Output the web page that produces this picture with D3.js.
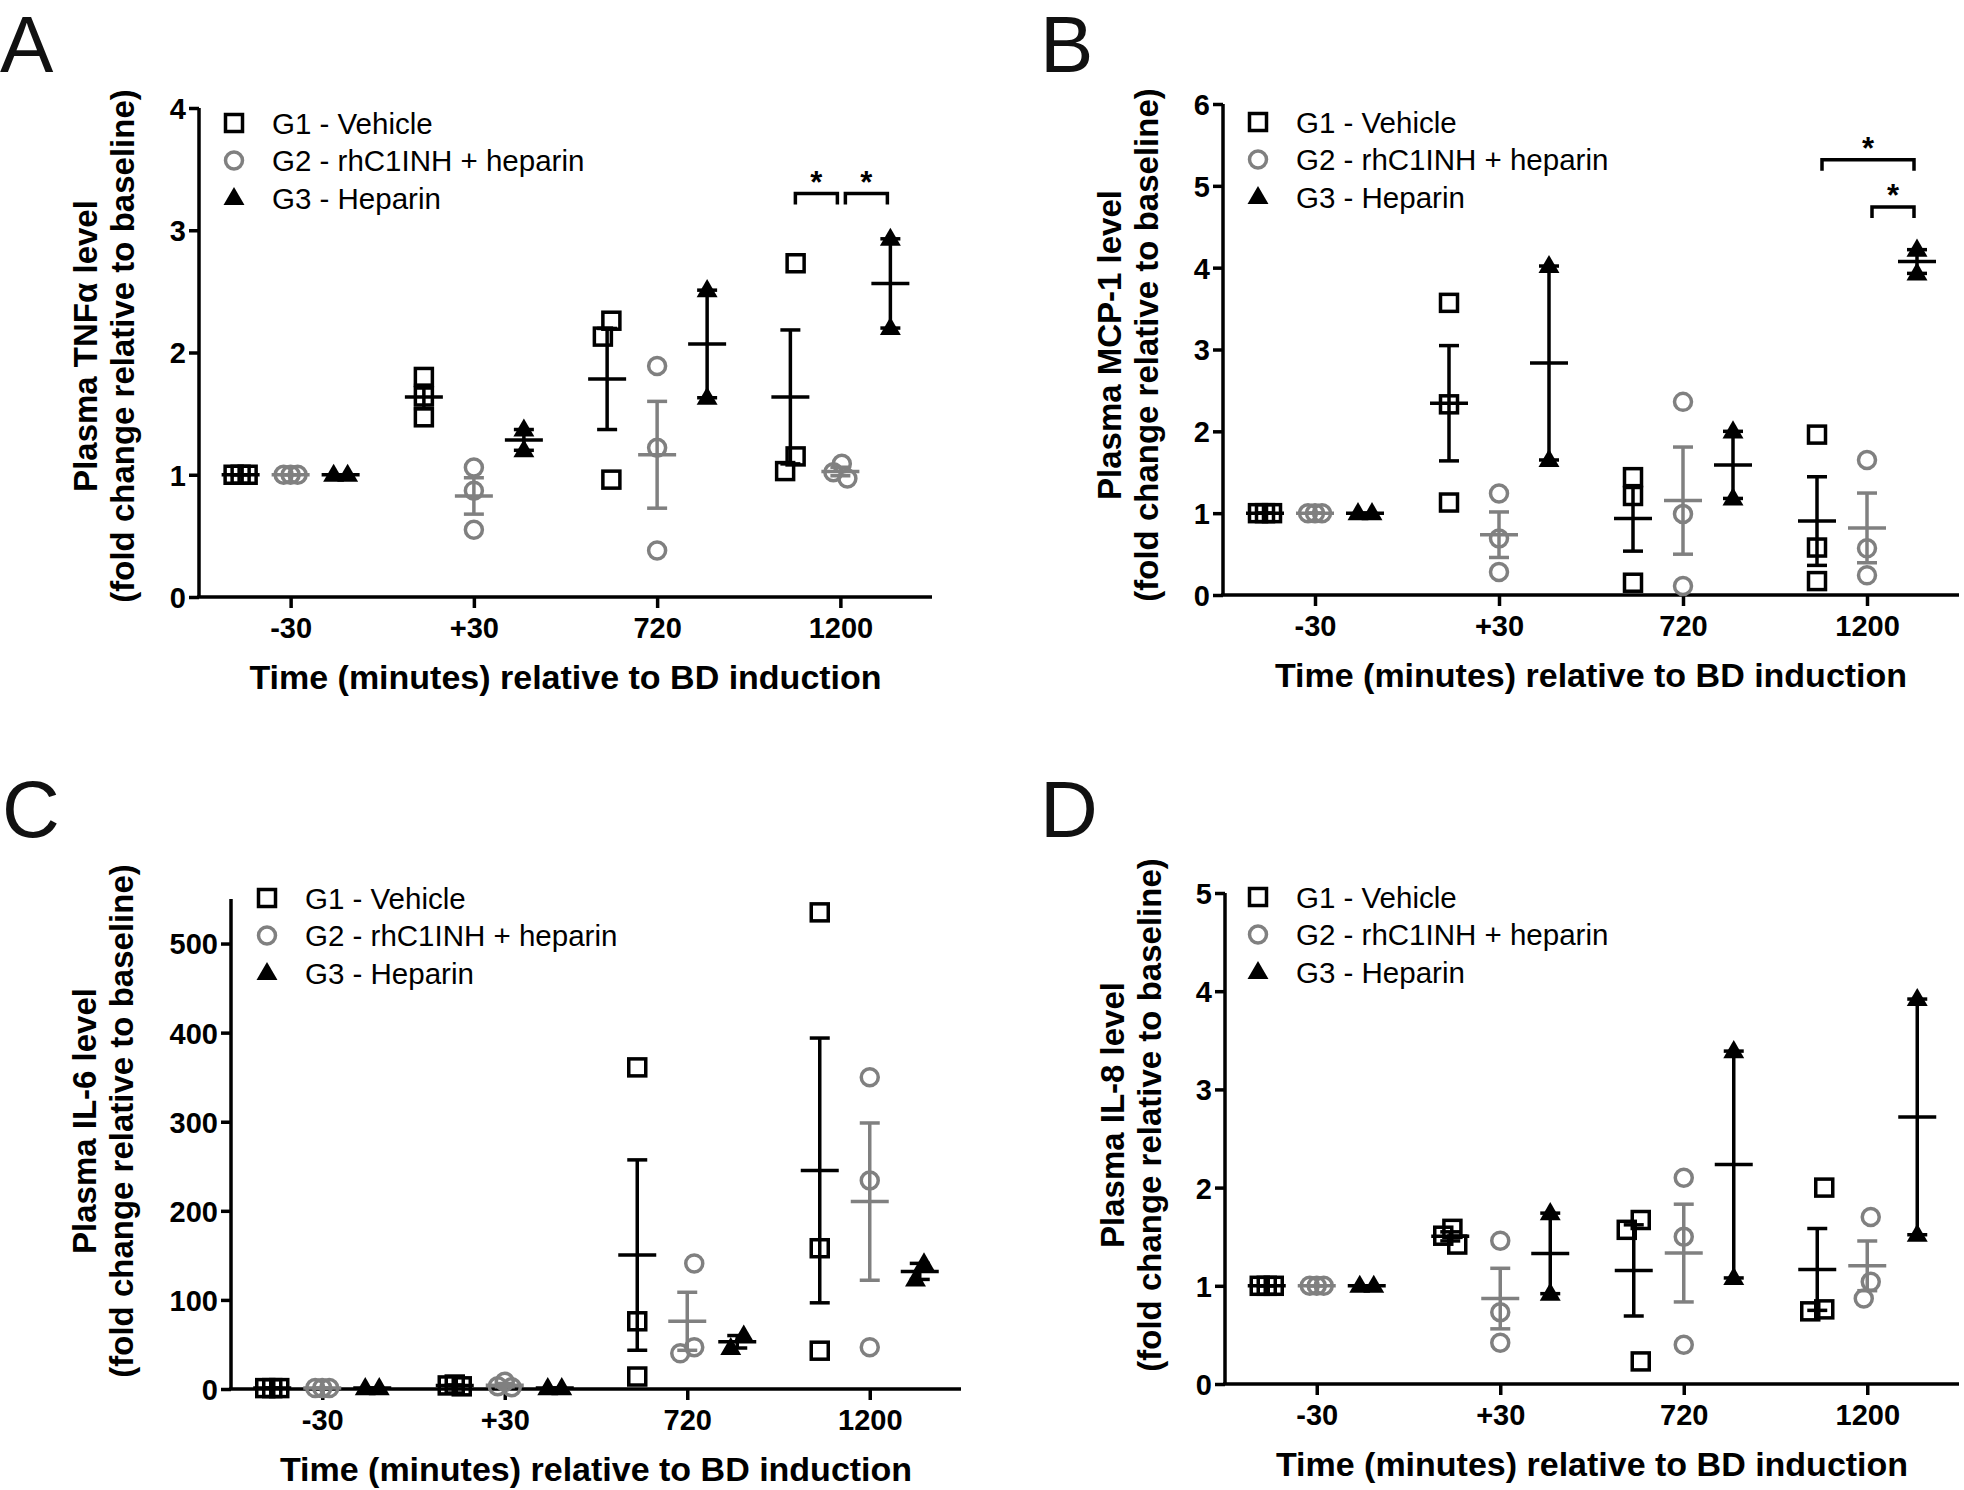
<!DOCTYPE html>
<html><head><meta charset="utf-8">
<script src="https://cdn.jsdelivr.net/npm/d3@7"></script>
<style>body{margin:0;background:#fff}</style>
</head><body>
<svg id="chart" width="1964" height="1490" xmlns="http://www.w3.org/2000/svg"></svg>
<script>
// ---------------- DATA ----------------
const categories = ["-30", "+30", "720", "1200"];
const groupNames = ["G1 - Vehicle", "G2 - rhC1INH + heparin", "G3 - Heparin"];

// Panel A: Plasma TNFα (fold change)
const tnfG1 = [[1, 1, 1], [1.47, 1.80, 1.64], [2.26, 2.13, 0.96], [2.73, 1.15, 1.03]];
const tnfG2 = [[1, 1, 1], [1.06, 0.87, 0.55], [1.89, 1.22, 0.38], [1.09, 1.02, 0.97]];
const tnfG3 = [[1, 1], [1.20, 1.37], [2.51, 1.63], [2.93, 2.20]];
const tnfTicks = [0, 1, 2, 3, 4];
const tnfSig = [{cat: "1200", from: 0, to: 1, level: 3.30}, {cat: "1200", from: 1, to: 2, level: 3.30}];

// Panel B: Plasma MCP-1
const mcpG1 = [[1, 1, 1], [3.57, 2.33, 1.13], [1.44, 1.21, 0.15], [1.96, 0.58, 0.17]];
const mcpG2 = [[1, 1, 1], [1.24, 0.69, 0.28], [2.36, 0.99, 0.11], [1.65, 0.57, 0.24]];
const mcpG3 = [[1, 1], [4.02, 1.65], [2.00, 1.18], [4.22, 3.93]];
const mcpTicks = [0, 1, 2, 3, 4, 5, 6];
const mcpSig = [{cat: "1200", from: 0, to: 2, level: 5.32}, {cat: "1200", from: 1, to: 2, level: 4.74}];

// Panel C: Plasma IL-6
const il6G1 = [[1, 1, 1], [5, 3, 4], [361, 76, 14], [535, 158, 43]];
const il6G2 = [[1, 1, 1], [8, 2, 3], [141, 40, 47], [350, 234, 47]];
const il6G3 = [[1, 1], [1, 1], [60, 46], [141, 123]];
const il6Ticks = [0, 100, 200, 300, 400, 500];
const il6Sig = [];

// Panel D: Plasma IL-8
const il8G1 = [[1, 1, 1], [1.58, 1.42, 1.51], [1.67, 1.57, 0.23], [2.00, 0.76, 0.74]];
const il8G2 = [[1, 1, 1], [1.46, 0.73, 0.42], [2.10, 1.50, 0.40], [1.70, 1.04, 0.87]];
const il8G3 = [[1, 1], [1.74, 0.92], [3.39, 1.08], [3.92, 1.52]];
const il8Ticks = [0, 1, 2, 3, 4, 5];
const il8Sig = [];

const xTitle = "Time (minutes) relative to BD induction";
const yTitle2 = "(fold change relative to baseline)";

// ---------------- LAYOUT ----------------
const FONT = "'Liberation Sans', Arial, Helvetica, sans-serif";
const GRAY = "#808080";
const SW = 3.5;

const panels = [
  {letter: "A", yTitle1: "Plasma TNFα level", groups: [tnfG1, tnfG2, tnfG3], ticks: tnfTicks, yMax: 4, sig: tnfSig,
   ax: 199, axEnd: 932, y0: 597, yTop: 108, legX: 234, legY: 123, letX: 0, letY: 72, tX: 122, tCy: 346},
  {letter: "B", yTitle1: "Plasma MCP-1 level", groups: [mcpG1, mcpG2, mcpG3], ticks: mcpTicks, yMax: 6, sig: mcpSig,
   ax: 1223, axEnd: 1959, y0: 595, yTop: 104, legX: 1258, legY: 122, letX: 1040, letY: 72, tX: 1146, tCy: 345},
  {letter: "C", yTitle1: "Plasma IL-6 level", groups: [il6G1, il6G2, il6G3], ticks: il6Ticks, yMax: 550, sig: il6Sig,
   ax: 231, axEnd: 961, y0: 1389, yTop: 899, legX: 267, legY: 898, letX: 2, letY: 837, tX: 121, tCy: 1121},
  {letter: "D", yTitle1: "Plasma IL-8 level", groups: [il8G1, il8G2, il8G3], ticks: il8Ticks, yMax: 5, sig: il8Sig,
   ax: 1225, axEnd: 1959, y0: 1384, yTop: 893, legX: 1258, legY: 897, letX: 1040, letY: 837, tX: 1149, tCy: 1115}
];

const svg = d3.select("#chart");
svg.append("rect").attr("width", 1964).attr("height", 1490).attr("fill", "#fff");

function marker(g, gi, x, y) {
  if (gi === 0) {
    g.append("rect").attr("x", x - 8.5).attr("y", y - 8.5).attr("width", 17).attr("height", 17)
      .attr("fill", "none").attr("stroke", "#000").attr("stroke-width", SW);
  } else if (gi === 1) {
    g.append("circle").attr("cx", x).attr("cy", y).attr("r", 8.5)
      .attr("fill", "none").attr("stroke", GRAY).attr("stroke-width", SW);
  } else {
    g.append("path").attr("d", d3.symbol(d3.symbolTriangle, 190)())
      .attr("transform", `translate(${x},${y + 1})`).attr("fill", "#000");
  }
}

function swarm(ys, d = 18, cap = 7) {
  const idx = ys.map((y, i) => i).sort((a, b) => ys[a] - ys[b]);
  const placed = [];
  const off = new Array(ys.length).fill(0);
  for (const i of idx) {
    let best = 0;
    outer: for (let k = 0; k < 400; k++) {
      const cands = k === 0 ? [0] : [-k * 0.5, k * 0.5];
      for (const c of cands) {
        if (placed.every(p => Math.hypot(p.x - c, p.y - ys[i]) >= d)) { best = c; break outer; }
      }
    }
    off[i] = best;
    placed.push({x: best, y: ys[i]});
  }
  const mid = (Math.min(...off) + Math.max(...off)) / 2;
  let res = off.map(o => o - mid);
  const m = Math.max(...res.map(Math.abs));
  if (m > cap) res = res.map(o => o * cap / m);
  return res;
}

panels.forEach(p => {
  const g = svg.append("g");
  const x = d3.scalePoint().domain(categories).range([p.ax, p.axEnd]).padding(0.5);
  const y = d3.scaleLinear().domain([0, p.yMax]).range([p.y0, p.yTop]);
  const gOff = [-50, 0, 50];

  // panel letter
  g.append("text").attr("x", p.letX).attr("y", p.letY).text(p.letter)
    .attr("font-family", FONT).attr("font-size", 80).attr("fill", "#111");

  // y axis
  const yAxis = d3.axisLeft(y).tickValues(p.ticks).tickSize(10).tickPadding(3).tickFormat(d3.format("d"));
  const ya = g.append("g").attr("transform", `translate(${p.ax},0)`).call(yAxis);
  ya.select(".domain").attr("d", `M0,${p.y0}V${p.yTop}`).attr("stroke", "#000").attr("stroke-width", SW);
  ya.selectAll(".tick line").attr("stroke", "#000").attr("stroke-width", SW);
  ya.selectAll(".tick text").attr("font-family", FONT).attr("font-weight", "bold")
    .attr("font-size", 29).attr("fill", "#000").attr("dy", "0.36em");

  // x axis
  const xAxis = d3.axisBottom(x).tickSize(11).tickPadding(9);
  const xa = g.append("g").attr("transform", `translate(0,${p.y0})`).call(xAxis);
  xa.select(".domain").attr("d", `M${p.ax - 2},0H${p.axEnd}`).attr("stroke", "#000").attr("stroke-width", SW);
  xa.selectAll(".tick line").attr("stroke", "#000").attr("stroke-width", SW);
  xa.selectAll(".tick text").attr("font-family", FONT).attr("font-weight", "bold")
    .attr("font-size", 29).attr("fill", "#000");

  // axis titles
  g.append("text").attr("x", (p.ax + p.axEnd) / 2).attr("y", p.y0 + 92).attr("text-anchor", "middle")
    .attr("font-family", FONT).attr("font-weight", "bold").attr("font-size", 34).text(xTitle);
  [[p.yTitle1, p.tX - 37], [yTitle2, p.tX]].forEach(([t, cx]) => {
    g.append("text").attr("transform", `translate(${cx + 12},${p.tCy}) rotate(-90)`)
      .attr("text-anchor", "middle").attr("font-family", FONT).attr("font-weight", "bold")
      .attr("font-size", 33).text(t);
  });

  // data
  p.groups.forEach((series, gi) => {
    const col = gi === 1 ? GRAY : "#000";
    series.forEach((vals, ci) => {
      const cx = x(categories[ci]) + gOff[gi];
      const ys = vals.map(v => y(v));
      const offs = swarm(ys);
      vals.forEach((v, i) => marker(g, gi, cx + offs[i], y(v)));
      const n = vals.length;
      const mean = d3.mean(vals);
      const sem = d3.deviation(vals) / Math.sqrt(n);
      const eg = g.append("g").attr("stroke", col).attr("stroke-width", SW).attr("fill", "none");
      eg.append("line").attr("x1", cx).attr("x2", cx).attr("y1", y(mean - sem)).attr("y2", y(mean + sem));
      [mean - sem, mean + sem].forEach(v =>
        eg.append("line").attr("x1", cx - 10).attr("x2", cx + 10).attr("y1", y(v)).attr("y2", y(v)));
      eg.append("line").attr("x1", cx - 19).attr("x2", cx + 19).attr("y1", y(mean)).attr("y2", y(mean));
    });
  });

  // significance brackets
  p.sig.forEach(s => {
    const x1 = x(s.cat) + gOff[s.from] + 5;
    const x2 = x(s.cat) + gOff[s.to] - 3;
    const yy = y(s.level);
    g.append("path").attr("d", `M${x1},${yy + 11}V${yy}H${x2}V${yy + 11}`)
      .attr("fill", "none").attr("stroke", "#000").attr("stroke-width", SW);
    g.append("text").attr("x", (x1 + x2) / 2).attr("y", yy - 1).attr("text-anchor", "middle")
      .attr("font-family", FONT).attr("font-weight", "bold").attr("font-size", 31).text("*");
  });

  // legend
  groupNames.forEach((name, gi) => {
    const ly = p.legY + gi * 37.5;
    marker(g, gi, p.legX, ly);
    g.append("text").attr("x", p.legX + 38).attr("y", ly + 10.5).text(name)
      .attr("font-family", FONT).attr("font-size", 29.5).attr("fill", "#000");
  });
});
</script>
</body></html>
